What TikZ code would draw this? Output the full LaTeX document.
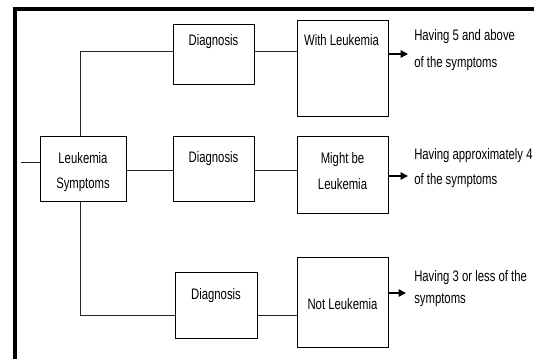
\documentclass[tikz,border=0pt]{standalone}
\usepackage{fontspec}
\setmainfont{Liberation Sans}[FakeStretch=0.745]
\usetikzlibrary{arrows.meta}
\begin{document}
\begin{tikzpicture}[x=0.75pt,y=-0.75pt,
  box/.style={draw=black,line width=0.75pt,inner sep=0pt},
  txt/.style={inner sep=0pt,anchor=base,font=\fontsize{11.4}{13}\selectfont},
  ltxt/.style={inner sep=0pt,anchor=base west,font=\fontsize{11.4}{13}\selectfont},
  conn/.style={draw=black!85,line width=0.75pt},
  res/.style={draw=black,line width=1.1pt,-{Triangle[length=5.5pt,width=5.5pt]}},
  frame/.style={draw=black,line width=2.3pt}]
\useasboundingbox (0,0) rectangle (534,359);
\fill[white] (0,0) rectangle (534,359);
% frame
\draw[frame] (15,362) -- (15,9) -- (537,9);
% boxes
\node[box,minimum width=64.5pt,minimum height=48.75pt] (sym) at (83,169.5) {};
\node[box,minimum width=60.75pt,minimum height=45pt] (d1) at (213.5,55) {};
\node[box,minimum width=60.75pt,minimum height=48.75pt] (d2) at (213.5,169.5) {};
\node[box,minimum width=61.5pt,minimum height=49.5pt] (d3) at (216,305) {};
\node[box,minimum width=68.25pt,minimum height=72pt] (wl) at (342.5,69) {};
\node[box,minimum width=68.25pt,minimum height=57.75pt] (mbl) at (342.5,175.5) {};
\node[box,minimum width=68.25pt,minimum height=67.5pt] (nl) at (342.5,302) {};
% box texts
\node[txt] (t1) at (83,163.3) {Leukemia};
\node[txt] (t2) at (83,188.5) {Symptoms};
\node[txt] (t3) at (213.5,46) {Diagnosis};
\node[txt] (t4) at (213.5,162.7) {Diagnosis};
\node[txt] (t5) at (216,299.3) {Diagnosis};
\node[txt] (t6) at (341.5,45.7) {With Leukemia};
\node[txt] (t7) at (342.5,163.3) {Might be};
\node[txt] (t8) at (342.5,189.3) {Leukemia};
\node[txt] (t9) at (342.5,309.3) {Not Leukemia};
% result texts
\node[ltxt] (r1) at (414,40.7) {Having 5 and above};
\node[ltxt] (r2) at (414,68) {of the symptoms};
\node[ltxt] (r3) at (414,160) {Having approximately 4};
\node[ltxt] (r4) at (414,184.5) {of the symptoms};
\node[ltxt] (r5) at (414,281.7) {Having 3 or less of the};
\node[ltxt] (r6) at (414,303) {symptoms};
% connectors
\coordinate (in) at (21,163);
\coordinate (top) at (80,52);
\coordinate (bot) at (80,315);
\draw[conn] (in) -- (sym.west |- in);
\draw[conn] (sym.north -| top) -- (top);
\draw[conn] (sym.south -| bot) -- (bot);
\draw[conn] (top) -- (d1.west |- top);
\draw[conn] (bot) -- (d3.west |- bot);
\coordinate (y2) at (0,171);
\draw[conn] (sym.east |- y2) -- (d2.west |- y2);
\draw[conn] (d1.east |- top) -- (wl.west |- top);
\draw[conn] (d2.east |- y2) -- (mbl.west |- y2);
\draw[conn] (d3.east |- bot) -- (nl.west |- bot);
% arrows
\coordinate (a1) at (408,54);
\coordinate (a2) at (408,176);
\coordinate (a3) at (406,293);
\draw[res] (wl.east |- a1) -- (a1);
\draw[res] (mbl.east |- a2) -- (a2);
\draw[res] (nl.east |- a3) -- (a3);
\end{tikzpicture}
\end{document}
